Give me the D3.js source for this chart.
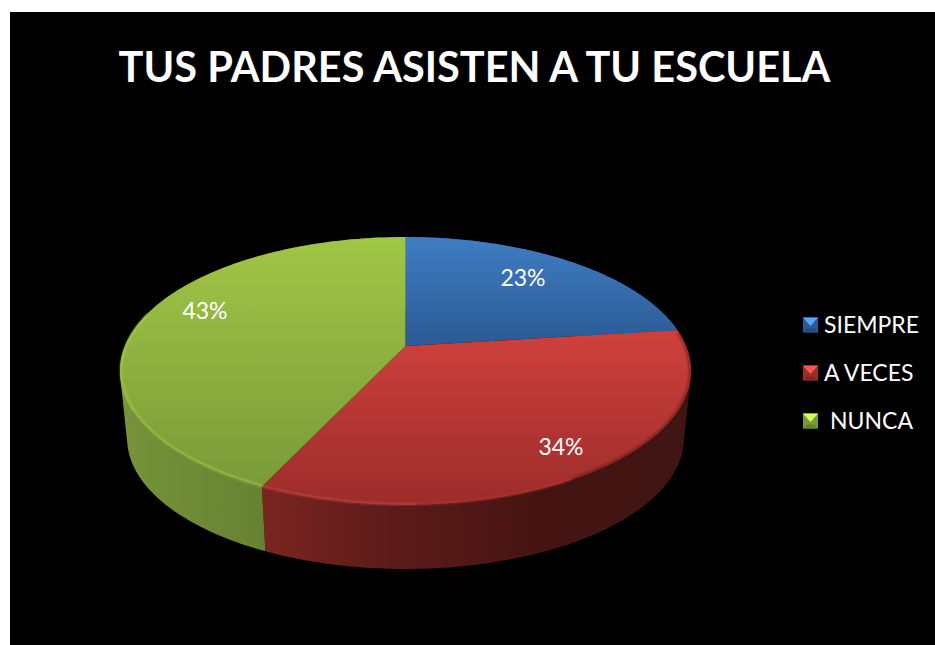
<!DOCTYPE html>
<html><head><meta charset="utf-8">
<script src="https://cdn.jsdelivr.net/npm/d3@7"></script>
<style>html,body{margin:0;padding:0;background:#fff;overflow:hidden}svg{display:block}text{font-family:Lato,"Open Sans",sans-serif;fill:#fff}</style>
</head><body><svg id="c" width="935" height="645"></svg>
<script>
const categories = ["SIEMPRE","A VECES","NUNCA"];
const values = [23,34,43];
const labels = ["23%","34%","43%"];
const titleText = "TUS PADRES ASISTEN A TU ESCUELA";
const topStart = ["#3f7dc3","#cf403c","#a0c646"];
const topEnd = ["#2b5a94","#9c2d2b","#7a9a38"];
const wallStops = [
  [[0,"#234a78"],[1,"#1a3658"]],
  [[0,"#7a2522"],[0.3,"#5c1b19"],[0.65,"#451412"],[1,"#3f1513"]],
  [[0,"#76943a"],[1,"#586f29"]]
];
const rimDegrees = [[205,178],[178,150],[150,84],[205,285]];
const rimColors = ["#c94a45","#b23632","#5a1a18","#a9cc50"];

const svg = d3.select("#c");
const defs = svg.append("defs");
svg.append("rect").attr("x",10).attr("y",12).attr("width",925).attr("height",633).attr("fill","#000");

const k = 0.1866, a = 280.5, b = 129.3, cx = 405.5, cyTop = 346, depthScale = 0.975, cyBot = 414;
const proj = (t,r,sc,cy) => { const u=r*Math.sin(t), v=-r*Math.cos(t), w=1-k*v; return [cx+sc*a*u/w, cy+sc*b*v/w]; };
const topPt = t => proj(t,1,1,cyTop), botPt = t => proj(t,1,depthScale,cyBot);
const arcs = d3.pie().sort(null).startAngle(0).endAngle(2*Math.PI)(values);
const samples = (s,e) => d3.range(0,121).map(i => s+(e-s)*i/120);
const line = d3.line();

defs.append("filter").attr("id","soft").append("feGaussianBlur").attr("stdDeviation",1);

arcs.forEach((d,i) => {
  const pts = samples(d.startAngle,d.endAngle).map(topPt).concat([[cx,cyTop]]);
  const ys = d3.extent(pts,p=>p[1]), xs = d3.extent(pts,p=>p[0]);
  const g = defs.append("linearGradient").attr("id","top"+i).attr("gradientUnits","userSpaceOnUse")
    .attr("x1",0).attr("x2",0).attr("y1",ys[0]).attr("y2",ys[1]);
  g.append("stop").attr("offset",0).attr("stop-color",topStart[i]);
  g.append("stop").attr("offset",1).attr("stop-color",topEnd[i]);
  const w = defs.append("linearGradient").attr("id","wall"+i).attr("gradientUnits","userSpaceOnUse")
    .attr("x1",xs[0]).attr("x2",xs[1]).attr("y1",0).attr("y2",0);
  wallStops[i].forEach(s => w.append("stop").attr("offset",s[0]).attr("stop-color",s[1]));
});

const gWall = svg.append("g"), gTop = svg.append("g");
arcs.forEach((d,i) => {
  const ts = samples(d.startAngle,d.endAngle);
  // one consistently wound quad per sample, so the silhouette between the two rims is filled
  const quads = d3.pairs(ts).map(([p,q]) => {
    const poly = [topPt(p),topPt(q),botPt(q),botPt(p)];
    if (d3.polygonArea(poly) < 0) poly.reverse();
    return line(poly)+"Z";
  }).join("");
  gWall.append("path").attr("d", quads).attr("fill",`url(#wall${i})`);
});
arcs.forEach((d,i) => {
  const ts = samples(d.startAngle,d.endAngle);
  gTop.append("path").attr("d", line([[cx,cyTop]].concat(ts.map(topPt)))+"Z")
    .attr("fill",`url(#top${i})`);
});
rimDegrees.forEach((r,i) => {
  const ts = samples(r[0]*Math.PI/180, r[1]*Math.PI/180);
  gTop.append("path").attr("d", line(ts.map(t=>proj(t,0.996,1,cyTop))))
    .attr("fill","none").attr("stroke",rimColors[i]).attr("stroke-width",2).attr("filter","url(#soft)").attr("opacity",0.75);
});

svg.append("text").attr("x",474.5).attr("y",82).attr("text-anchor","middle")
  .attr("font-size",41.5).attr("font-weight",700).text(titleText);

const labelPos = [[523,286],[561,455],[205,319]];
labels.forEach((t,i)=> svg.append("text").attr("x",labelPos[i][0]).attr("y",labelPos[i][1])
  .attr("text-anchor","middle").attr("font-size",23).text(t));

const y = d3.scalePoint().domain(categories).range([325,421]);
const lx = 803, s = 15;
categories.forEach((c,i)=>{
  const yy = y(c), x0=lx, y0=yy-s/2, x1=lx+s, y1=yy+s/2, ins=4, mx=lx+s/2;
  const base = d3.color(topStart[i]);
  const g = svg.append("g");
  g.append("rect").attr("x",x0).attr("y",y0).attr("width",s).attr("height",s).attr("fill",topEnd[i]);
  g.append("path").attr("d",line([[x0,y0],[x1,y0],[mx,yy+1]])+"Z").attr("fill",base.brighter(0.8));
  g.append("path").attr("d",line([[x0,y1],[x1,y1],[x1-ins,y1-ins],[x0+ins,y1-ins]])+"Z").attr("fill",d3.color(topEnd[i]).darker(0.5));
  svg.append("text").attr("x",i===2?830:824).attr("y",yy+8).attr("font-size",23).text(c);
});
</script></body></html>
